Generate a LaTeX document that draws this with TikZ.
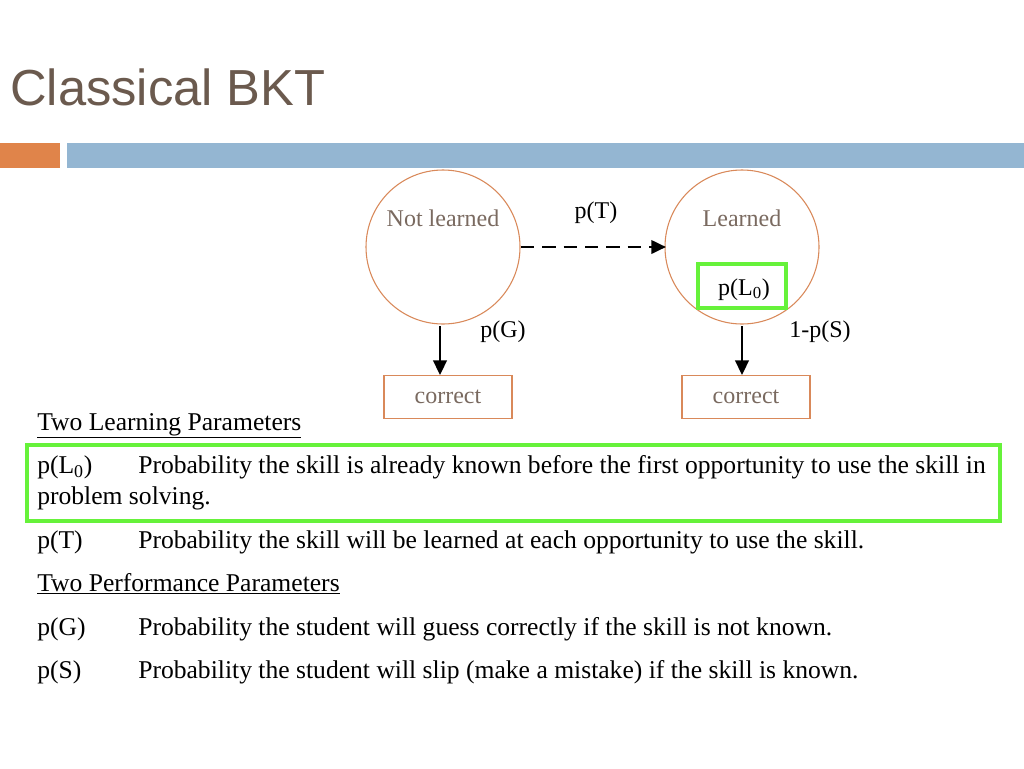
\documentclass[tikz,border=0pt]{standalone}
\usepackage{fontspec}
\setmainfont{Liberation Serif}
\newfontfamily\titlefont{Liberation Sans}
\usetikzlibrary{arrows.meta}
\definecolor{ttl}{HTML}{6B5A4E}
\definecolor{orng}{HTML}{E0844A}
\definecolor{blu}{HTML}{94B6D2}
\definecolor{circ}{HTML}{D9895A}
\definecolor{gtxt}{HTML}{7A6A60}
\definecolor{grn}{HTML}{66F23A}
\tikzset{
  txt/.style={anchor=base west,inner sep=0pt,font=\fontsize{19.2pt}{22pt}\selectfont},
  dtxt/.style={anchor=base,inner sep=0pt,font=\fontsize{18pt}{21pt}\selectfont},
  gtext/.style={dtxt,text=gtxt},
  state/.style={circle,draw=circ,line width=0.8pt,minimum size=115.5pt,inner sep=0pt},
  obs/.style={draw=circ,line width=0.8pt,minimum width=96pt,minimum height=32pt,inner sep=0pt},
  arr/.style={line width=2pt,-{Triangle[length=11pt,width=10pt]}},
  hl/.style={draw=grn,line width=3pt}
}
\begin{document}
\begin{tikzpicture}[x=0.75pt,y=-0.75pt]
\useasboundingbox (0,0) rectangle (1024,768);
\fill[white] (0,0) rectangle (1024,768);
\node[anchor=base west,inner sep=0pt,text=ttl,font=\titlefont\fontsize{38pt}{44pt}\selectfont] (title) at (10,105) {Classical BKT};
\fill[orng] (0,143) rectangle (60,168);
\fill[blu] (67,143) rectangle (1024,168);
\node[state] (nl) at (443,247) {};
\node[state] (l) at (742,247) {};
\node[gtext] (nlt) at (443,226) {Not learned};
\node[gtext] (lt) at (742,226) {Learned};
\coordinate (da) at (521,247);
\coordinate (db) at (666,247);
\draw[arr,dash pattern=on 10pt off 6pt] (da) -- (db);
\node[dtxt] (pt) at (596,218) {p(T)};
\node[hl,minimum width=66pt,minimum height=33pt] (l0box) at (742,286) {};
\node[dtxt] (pl0) at (744,295) {p(L\textsubscript{0})};
\node[obs] (c1) at (448,397) {};
\node[obs] (c2) at (746,397) {};
\node[gtext] (c1t) at (c1.center) [yshift=-5pt] {correct};
\node[gtext] (c2t) at (c2.center) [yshift=-5pt] {correct};
\coordinate (a1) at (440,326);
\coordinate (a2) at (742,326);
\draw[arr] (a1) -- (c1.north -| a1);
\draw[arr] (a2) -- (c2.north -| a2);
\node[dtxt] (pg) at (503,337) {p(G)};
\node[dtxt] (ps) at (820,337) {1-p(S)};
\node[txt] (h1) at (37,430) {\underline{Two Learning Parameters}};
\node[hl,anchor=north west,minimum width=730pt,minimum height=57pt] (box) at (25,443) {};
\node[txt] (r1a) at (37,473) {p(L\textsubscript{0})};
\node[txt] (r1b) at (138,473) {Probability the skill is already known before the first opportunity to use the skill in};
\node[txt] (r1c) at (37,504) {problem solving.};
\node[txt] (r2a) at (37,548) {p(T)};
\node[txt] (r2b) at (138,548) {Probability the skill will be learned at each opportunity to use the skill.};
\node[txt] (h2) at (37,591) {\underline{Two Performance Parameters}};
\node[txt] (r3a) at (37,635) {p(G)};
\node[txt] (r3b) at (138,635) {Probability the student will guess correctly if the skill is not known.};
\node[txt] (r4a) at (37,678) {p(S)};
\node[txt] (r4b) at (138,678) {Probability the student will slip (make a mistake) if the skill is known.};
\end{tikzpicture}
\end{document}
